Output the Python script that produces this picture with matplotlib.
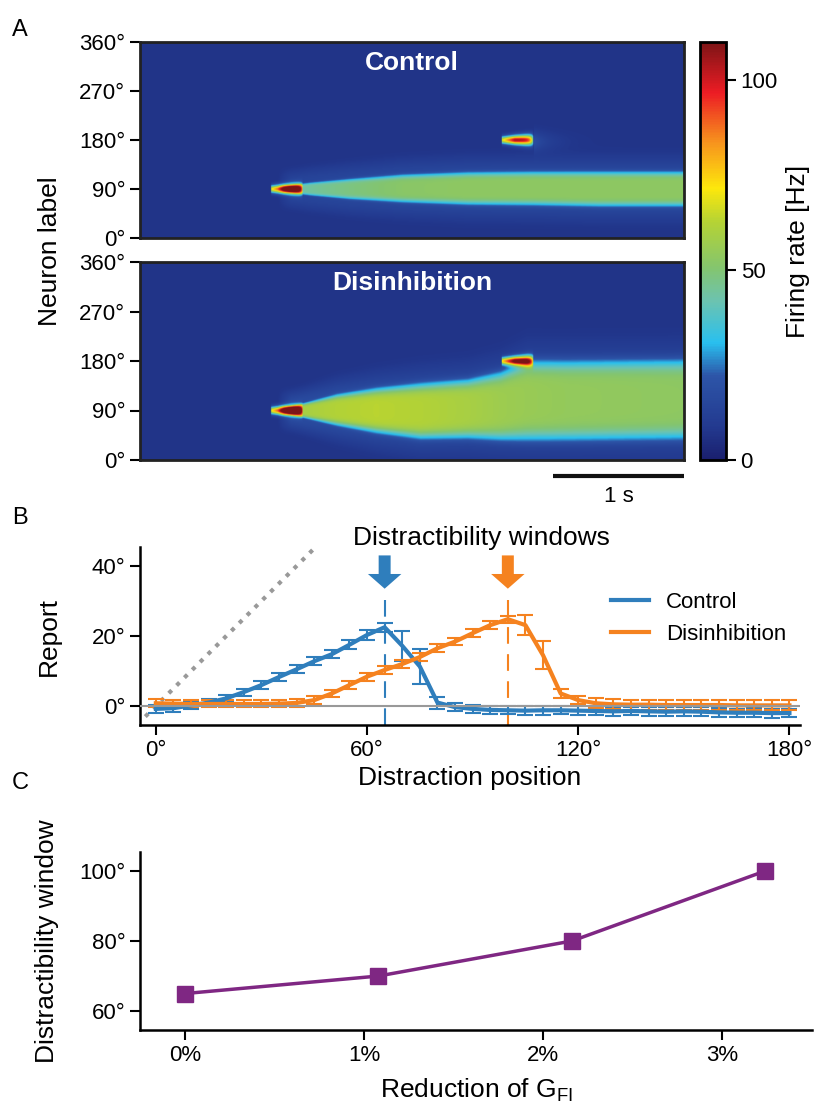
import numpy as np
import matplotlib
matplotlib.use("Agg")
import matplotlib.pyplot as plt
from matplotlib.colors import LinearSegmentedColormap

plt.rcParams["font.family"] = ["Liberation Sans", "DejaVu Sans"]
plt.rcParams["axes.linewidth"] = 1.8
plt.rcParams["xtick.major.size"] = 7
plt.rcParams["ytick.major.size"] = 7
plt.rcParams["xtick.major.width"] = 1.5
plt.rcParams["ytick.major.width"] = 1.5
plt.rcParams["xtick.labelsize"] = 16
plt.rcParams["ytick.labelsize"] = 16
plt.rcParams["axes.labelsize"] = 19

# ---------------- panel A : keyframes ----------------
sim_end = 4.15                 # s
baseline_rate = 7              # Hz
cue_time = [1.0, 1.24]
cue_angle = 90
dist_time = [2.76, 3.0]
dist_angle = 180
pulse_peak = 102

ctrl_t = [1.15, 1.3, 1.6, 2.0, 2.5, 3.0, 3.5, 4.15]
ctrl_center = [90, 90, 90, 91, 91, 91, 90, 90]
ctrl_width = [7, 11, 17, 23, 27, 28, 29, 29]
ctrl_amp = [27, 30, 33, 36, 37, 37, 37, 37]

dis_t = [1.15, 1.25, 1.5, 1.8, 2.14, 2.5, 2.75, 2.95, 3.26, 4.15]
dis_center = [90, 90, 91, 90, 89, 93, 98, 108, 108, 110]
dis_width = [8, 12, 25, 36, 45, 48, 56, 66, 66, 66]
dis_amp = [38, 42, 44, 45, 44, 42, 40, 39, 38, 37]

# ---------------- panel B ----------------
distraction_pos = list(range(0, 181, 5))
ctrl_report = [-0.8, -0.6, 0.2, 1.0, 2.2, 4.0, 6.0, 8.3, 10.5, 12.8, 14.8, 17.5, 20.3,
               22.5, 17.2, 11.3, 1.0, -0.3, -0.8, -1.1, -1.2, -1.3, -1.2, -1.2, -1.3,
               -1.4, -1.5, -1.4, -1.5, -1.6, -1.5, -1.6, -1.8, -1.9, -1.9, -2.0, -2.0]
ctrl_err = [1.2, 1.0, 1.0, 0.9, 1.0, 1.0, 1.1, 1.1, 1.1, 1.2, 1.2, 1.3, 1.3,
            1.3, 4.2, 4.9, 1.7, 1.2, 1.2, 1.2, 1.2, 1.2, 1.3, 1.2, 1.3,
            1.2, 1.3, 1.2, 1.3, 1.3, 1.2, 1.3, 1.3, 1.2, 1.3, 1.3, 1.2]
dis_report = [0.8, 0.7, 0.6, 0.6, 0.6, 0.6, 0.6, 0.7, 0.9, 1.7, 3.6, 6.0, 8.4,
              10.3, 12.0, 14.0, 16.5, 18.4, 20.8, 23.1, 24.8, 23.1, 14.5, 3.6, 1.7,
              0.8, 0.5, 0.4, 0.4, 0.3, 0.3, 0.3, 0.3, 0.2, 0.2, 0.2, 0.2]
dis_err = [1.1, 1.0, 1.0, 1.0, 1.0, 1.0, 1.0, 1.0, 1.1, 1.1, 1.1, 1.1, 1.1,
           1.1, 1.1, 1.1, 1.1, 1.1, 1.1, 1.1, 1.0, 2.9, 4.0, 1.4, 1.2,
           1.4, 1.4, 1.4, 1.4, 1.4, 1.4, 1.4, 1.4, 1.4, 1.4, 1.4, 1.4]
window_ctrl = 65
window_dis = 100

# ---------------- panel C ----------------
gfi_reduction = [0, 1.08, 2.16, 3.24]
window_size = [65, 70, 80, 100]

blue = "#2f7ebc"
orange = "#f5821f"
purple = "#7f2783"

cmap = LinearSegmentedColormap.from_list("rate", [
    (0.00, "#1a1f6e"), (0.08, "#233a90"), (0.20, "#2d55a8"), (0.28, "#29c0ef"),
    (0.38, "#6cc3b0"), (0.46, "#84c56e"), (0.57, "#b5d334"), (0.65, "#fde80c"),
    (0.76, "#f7941d"), (0.88, "#ec1c24"), (1.00, "#7d1416")])

t = np.arange(0, sim_end, 0.005)
theta = np.arange(0, 360, 1.0) + 0.5


def bump(tk, ck, wk, ak):
    c = np.interp(t, tk, ck)
    w = np.interp(t, tk, wk)
    a = np.interp(t, tk, ak) * np.clip((t - tk[0] + 0.1) / 0.1, 0, 1)
    d = np.abs(theta[:, None] - c[None, :])
    core = a * np.exp(-np.log(2) * (d / w) ** 6)
    halo = 0.25 * a * np.exp(-np.log(2) * (d / (w + 22)) ** 4)
    return core + halo


def pulse(span, angle, peak, trail):
    frac = (t - span[0]) / (span[1] - span[0])
    inside = (frac >= 0) & (frac <= 1)
    amp = peak * np.clip(0.6 + 1.0 * frac, 0, 1) * np.sqrt(np.clip(1 - frac ** 8, 0, 1)) * inside
    width = 4.5 + 2.5 * np.clip(frac, 0, 1)
    d = theta[:, None] - angle
    out = amp * np.exp(-0.5 * (d / width) ** 2)
    after = np.where(t > span[1], trail * np.exp(-(t - span[1]) / 0.12), 0)
    out += after * np.exp(-0.5 * ((d + 3) / 12) ** 2)
    return out


rate_ctrl = (baseline_rate + bump(ctrl_t, ctrl_center, ctrl_width, ctrl_amp)
             + pulse(cue_time, cue_angle, pulse_peak, 0)
             + pulse(dist_time, dist_angle, pulse_peak - 4, 12))
rate_dis = (baseline_rate + bump(dis_t, dis_center, dis_width, dis_amp)
            + pulse(cue_time, cue_angle, pulse_peak + 2, 0)
            + pulse(dist_time, dist_angle, pulse_peak, 0))

fig = plt.figure(figsize=(8.16, 11.06), dpi=100)
W, H = 816, 1106


def box(l, t_, r, b):
    return [l / W, 1 - b / H, (r - l) / W, (b - t_) / H]


ax_top = fig.add_axes(box(140, 42, 684, 238))
ax_bot = fig.add_axes(box(140, 262, 684, 460))
cax = fig.add_axes(box(700, 42, 726, 460))

for ax, rate, title in [(ax_top, rate_ctrl, "Control"), (ax_bot, rate_dis, "Disinhibition")]:
    im = ax.imshow(rate, origin="lower", extent=[0, sim_end, 0, 360], aspect="auto",
                   cmap=cmap, vmin=0, vmax=110, interpolation="bilinear")
    ax.set_yticks([0, 90, 180, 270, 360])
    ax.set_yticklabels(["0°", "90°", "180°", "270°", "360°"])
    ax.set_xticks([])
    for s in ax.spines.values():
        s.set_linewidth(2)
        s.set_color("#222222")
    ax.text(0.5, 0.895, title, transform=ax.transAxes, ha="center", va="center",
            color="white", fontweight="bold", fontsize=19)

cb = fig.colorbar(im, cax=cax, ticks=[0, 50, 100])
cb.outline.set_linewidth(2)
cb.ax.tick_params(length=7, width=1.5, labelsize=16)
cb.set_label("Firing rate [Hz]", fontsize=19, labelpad=6)

fig.text(50 / W, 1 - 251 / H, "Neuron label", rotation=90, ha="center", va="center", fontsize=19)

# scale bar 1 s
ax_bot.plot([sim_end - 1, sim_end], [-29, -29], color="#111111", lw=3, clip_on=False,
            solid_capstyle="butt")
ax_bot.text(sim_end - 0.5, -67, "1 s", ha="center", va="center", fontsize=16)
ax_bot.set_xlim(0, sim_end)
ax_bot.set_ylim(0, 360)

# ---------------- panel B ----------------
axb = fig.add_axes(box(140, 547, 800, 725))
axb.plot([-3, 50], [-3, 50], ls=":", color="#999999", lw=3, zorder=1)
ec = axb.errorbar(distraction_pos, ctrl_report, yerr=ctrl_err, color=blue, lw=3,
                  elinewidth=1.5, capsize=6, capthick=1.5, label="Control", zorder=3)
ed = axb.errorbar(distraction_pos, dis_report, yerr=dis_err, color=orange, lw=3,
                  elinewidth=1.5, capsize=6, capthick=1.5, label="Disinhibition", zorder=3)
axb.axhline(0, color="#999999", lw=1.5, zorder=5)
for pos, col in [(window_ctrl, blue), (window_dis, orange)]:
    axb.plot([pos, pos], [-5.4, 33], color=col, lw=1.5, ls=(0, (8, 5)), zorder=2)
    axb.arrow(pos, 43, 0, -9.5, width=3.4, head_width=9.5, head_length=4.2,
              length_includes_head=True, color=col, lw=0, zorder=4)
axb.set_xlim(-4.5, 183)
axb.set_ylim(-5.4, 45.4)
axb.set_xticks([0, 60, 120, 180])
axb.set_xticklabels(["0°", "60°", "120°", "180°"])
axb.set_yticks([0, 20, 40])
axb.set_yticklabels(["0°", "20°", "40°"])
axb.spines["top"].set_visible(False)
axb.spines["right"].set_visible(False)
axb.set_xlabel("Distraction position")
axb.set_ylabel("Report")
axb.yaxis.set_label_coords(-0.12, 0.5)
axb.text(0.517, 1.05, "Distractibility windows", transform=axb.transAxes,
         ha="center", va="center", fontsize=19)
axb.legend(handles=[ec[0], ed[0]], labels=["Control", "Disinhibition"], frameon=False,
           fontsize=16, handlelength=1.7, loc="upper right",
           bbox_to_anchor=(1.01, 0.86))

# ---------------- panel C ----------------
axc = fig.add_axes(box(140, 852, 812, 1030))
axc.plot(gfi_reduction, window_size, color=purple, lw=2.5, marker="s", ms=11)
axc.set_xlim(-0.25, 3.5)
axc.set_ylim(54.6, 105.4)
axc.set_xticks([0, 1, 2, 3])
axc.set_xticklabels(["0%", "1%", "2%", "3%"])
axc.set_yticks([60, 80, 100])
axc.set_yticklabels(["60°", "80°", "100°"])
axc.spines["top"].set_visible(False)
axc.spines["right"].set_visible(False)
axc.set_xlabel("Reduction of G$_\\mathregular{FI}$", labelpad=8)
axc.set_ylabel("Distractibility window")
axc.yaxis.set_label_coords(-0.12, 0.5)

for letter, y in [("A", 30), ("B", 518), ("C", 783)]:
    fig.text(20 / W, 1 - y / H, letter, ha="center", va="center", fontsize=17)

fig.savefig("out.png", dpi=100)
